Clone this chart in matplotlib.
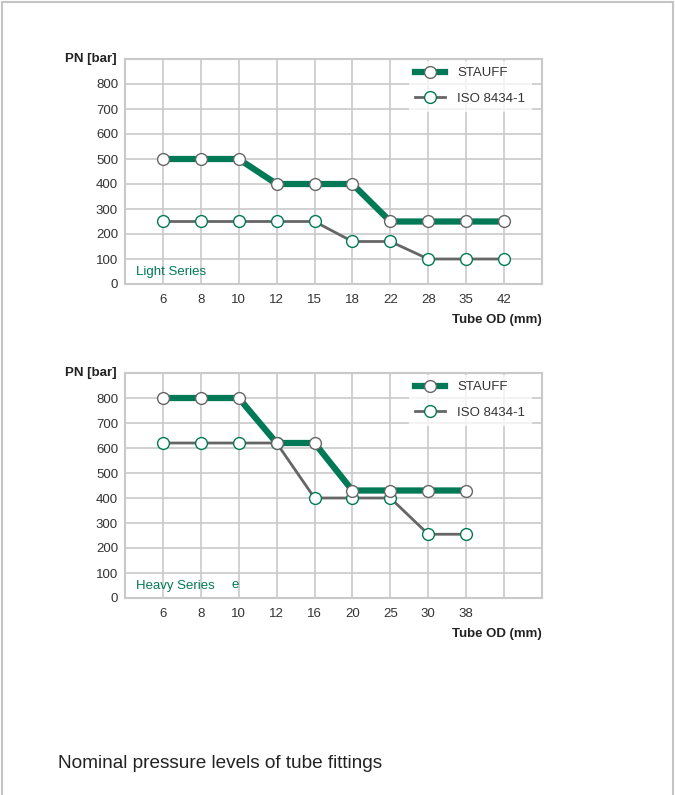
import matplotlib.pyplot as plt
from matplotlib.patches import Rectangle
from matplotlib import font_manager

# fonts: condensed look if available
names = {f.name for f in font_manager.fontManager.ttflist}
base = 'Liberation Sans Narrow' if 'Liberation Sans Narrow' in names else 'Liberation Sans'
plt.rcParams['font.family'] = [base, 'DejaVu Sans']

# data
light_od = ['6', '8', '10', '12', '15', '18', '22', '28', '35', '42']
light_stauff = [500, 500, 500, 400, 400, 400, 250, 250, 250, 250]
light_iso = [250, 250, 250, 250, 250, 170, 170, 100, 100, 100]

heavy_od = ['6', '8', '10', '12', '16', '20', '25', '30', '38']
heavy_stauff = [800, 800, 800, 620, 620, 430, 430, 430, 430]
heavy_iso = [620, 620, 620, 620, 400, 400, 400, 255, 255]

y_ticks = [0, 100, 200, 300, 400, 500, 600, 700, 800]

green = '#007a56'
gray = '#666666'
grid = '#c9c9c9'
txt = '#333333'

W, H = 675, 795
fig = plt.figure(figsize=(W / 100, H / 100), dpi=100)
fig.patches.append(Rectangle((1.5 / W, -0.01), (671.5 / W), 1.01 - 1.5 / H, transform=fig.transFigure,
                             fill=False, edgecolor='#c4c4c4', linewidth=1.5))


def draw(ax, od, stauff, iso, label, extra=None):
    x = list(range(len(od)))
    ax.plot(x, stauff, color=green, lw=4.5, marker='o', ms=8.5, mfc='white', mec=gray, mew=1.0,
            label='STAUFF', zorder=4)
    ax.plot(x, iso, color=gray, lw=2, marker='o', ms=8.5, mfc='white', mec=green, mew=1.0,
            label='ISO 8434-1', zorder=3)
    ax.set_xlim(-1, 10)
    ax.set_ylim(0, 900)
    ax.set_xticks(range(10))
    ax.set_xticklabels(od + [''] * (10 - len(od)))
    ax.set_yticks(y_ticks)
    ax.set_yticks([900], minor=True)
    ax.grid(True, which='both', color=grid, lw=1.2)
    ax.set_axisbelow(True)
    ax.tick_params(length=0, labelsize=9.5, labelcolor=txt, pad=7)
    ax.tick_params(axis='y', pad=5)
    ax.tick_params(axis='y', which='minor', length=0)
    for s in ax.spines.values():
        s.set_color(grid)
        s.set_linewidth(1.5)
    ax.text(-0.02, 1.0, 'PN [bar]', transform=ax.transAxes, ha='right', va='center',
            fontsize=9.5, fontweight='bold', color='#222222')
    ax.text(1.0, -0.16, 'Tube OD (mm)', transform=ax.transAxes, ha='right', va='center',
            fontsize=9.5, fontweight='bold', color='#222222')
    ax.text(-0.7, 50, label, ha='left', va='center', fontsize=9.5, color=green)
    if extra:
        ax.text(1.9, 50, extra, ha='center', va='center', fontsize=9.5, color=green)
    leg = ax.legend(loc='upper left', bbox_to_anchor=(0.665, 1.022), fontsize=9.5,
                    handlelength=2.2, labelspacing=1.0, borderpad=0.5, handletextpad=0.95,
                    frameon=True, fancybox=False, framealpha=0.75, edgecolor='none', labelcolor=txt)
    return leg


ax1 = fig.add_axes([125 / W, 1 - 284 / H, 417 / W, 225 / H])
draw(ax1, light_od, light_stauff, light_iso, 'Light Series')

ax2 = fig.add_axes([125 / W, 1 - 598 / H, 417 / W, 225 / H])
draw(ax2, heavy_od, heavy_stauff, heavy_iso, 'Heavy Series', 'e')

fig.text(58 / W, 1 - 763 / H, 'Nominal pressure levels of tube fittings', ha='left', va='center',
         fontsize=13.7, color='#222222')

fig.savefig('out.png', dpi=100)
